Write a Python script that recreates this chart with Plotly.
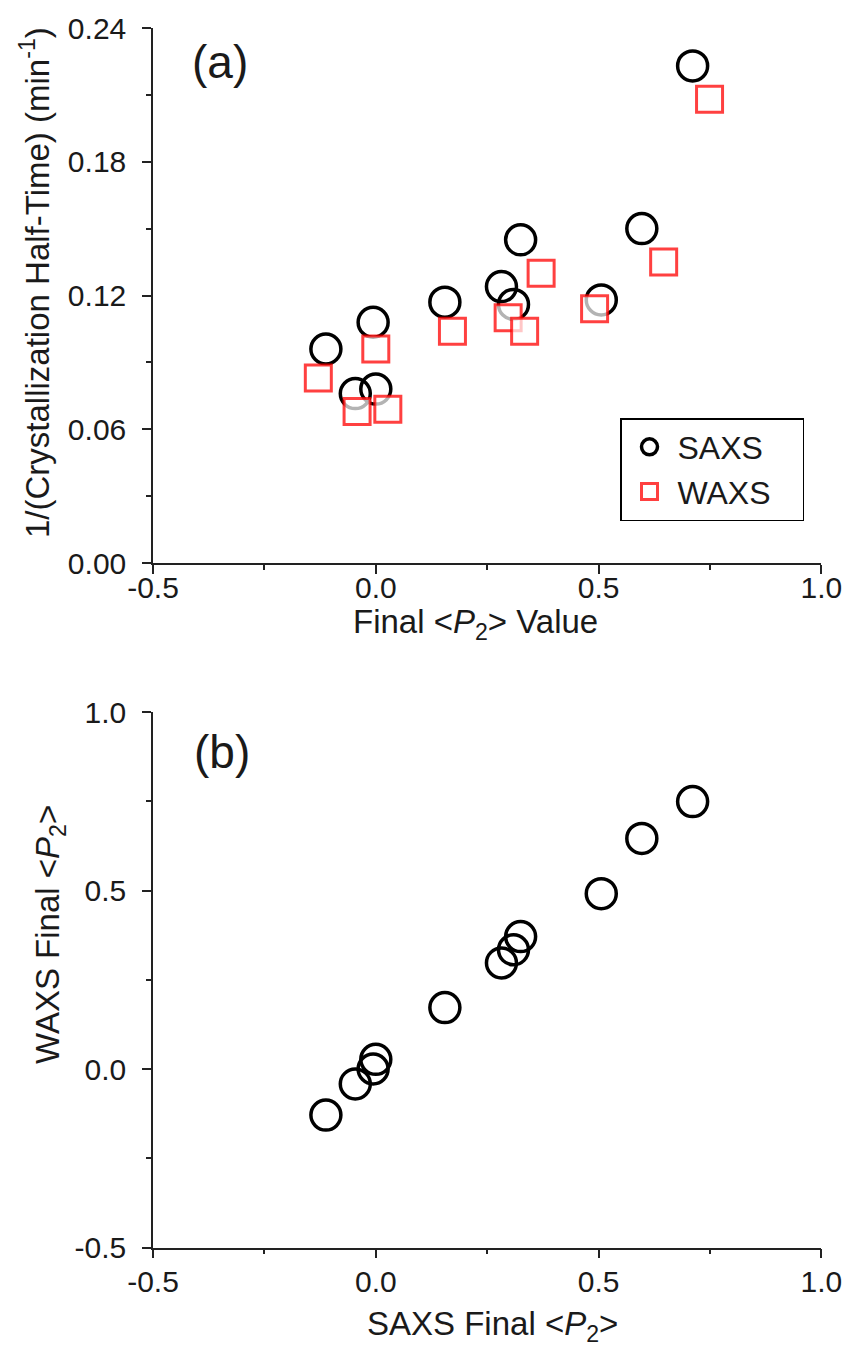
import plotly.graph_objects as go

# ---- data ----
sample_ids = list(range(1, 12))
saxs_p2 = [0.711, 0.597, 0.325, 0.282, 0.309, 0.506, 0.155, -0.006, -0.112, -0.046, 0.000]
saxs_rate = [0.223, 0.150, 0.145, 0.124, 0.116, 0.118, 0.117, 0.108, 0.096, 0.076, 0.078]
waxs_p2 = [0.749, 0.646, 0.371, 0.297, 0.334, 0.491, 0.172, 0.000, -0.129, -0.042, 0.027]
waxs_rate = [0.208, 0.135, 0.130, 0.110, 0.104, 0.114, 0.104, 0.096, 0.083, 0.068, 0.069]

x_ticks = [-0.5, 0.0, 0.5, 1.0]
x_ticktext = ["-0.5", "0.0", "0.5", "1.0"]
x_minor = [-0.25, 0.25, 0.75]
ya_ticks = [0.0, 0.06, 0.12, 0.18, 0.24]
ya_ticktext = ["0.00", "0.06", "0.12", "0.18", "0.24"]
ya_minor = [0.03, 0.09, 0.15, 0.21]
yb_ticks = [-0.5, 0.0, 0.5, 1.0]
yb_ticktext = ["-0.5", "0.0", "0.5", "1.0"]
yb_minor = [-0.25, 0.25, 0.75]

FONT = "Liberation Sans, Arial, sans-serif"
TXT = "#1a1a1a"
AX = "#222222"
W, H = 848, 1355
PAD = "\u00a0\u00a0\u00a0"

fig = go.Figure()

fig.add_trace(go.Scatter(
    x=saxs_p2, y=saxs_rate, mode="markers", name="SAXS" + PAD,
    marker=dict(symbol="circle-open", size=30, color="black",
                line=dict(width=3.5, color="black")),
    xaxis="x", yaxis="y", cliponaxis=False))
fig.add_trace(go.Scatter(
    x=waxs_p2, y=waxs_rate, mode="markers", name="WAXS" + PAD,
    marker=dict(symbol="square", size=26, color="rgba(255,255,255,0.7)",
                line=dict(width=3, color="rgba(255,0,0,0.75)")),
    xaxis="x", yaxis="y", cliponaxis=False))
fig.add_trace(go.Scatter(
    x=saxs_p2, y=waxs_p2, mode="markers", name="SAXS vs WAXS",
    marker=dict(symbol="circle-open", size=30, color="black",
                line=dict(width=3.5, color="black")),
    xaxis="x2", yaxis="y2", showlegend=False, cliponaxis=False))

xdom = [153 / W, 821.4 / W]
ydom_a = [1 - 563 / H, 1 - 28 / H]
ydom_b = [1 - 1247.5 / H, 1 - 712 / H]

def axis_common(tickvals, ticktext, minor_vals, standoff):
    return dict(
        tickmode="array", tickvals=tickvals, ticktext=ticktext,
        ticks="outside", ticklen=9, tickwidth=1.5, tickcolor=AX,
        minor=dict(tickmode="array", tickvals=minor_vals, ticks="outside",
                   ticklen=5, tickwidth=1.5, tickcolor=AX, showgrid=False),
        showline=True, linewidth=1.5, linecolor=AX,
        showgrid=False, zeroline=False, automargin=False,
        ticklabelstandoff=standoff,
        tickfont=dict(family=FONT, size=30, color=TXT),
    )

fig.update_layout(
    width=W, height=H,
    margin=dict(l=0, r=0, t=0, b=0, autoexpand=False),
    paper_bgcolor="white", plot_bgcolor="white",
    xaxis=dict(domain=xdom, range=[-0.5, 1.0], anchor="y",
               **axis_common(x_ticks, x_ticktext, x_minor, -12)),
    yaxis=dict(domain=ydom_a, range=[0, 0.24], anchor="x",
               **axis_common(ya_ticks, ya_ticktext, ya_minor, 10)),
    xaxis2=dict(domain=xdom, range=[-0.5, 1.0], anchor="y2",
                **axis_common(x_ticks, x_ticktext, x_minor, -2)),
    yaxis2=dict(domain=ydom_b, range=[-0.5, 1.0], anchor="x2",
                **axis_common(yb_ticks, yb_ticktext, yb_minor, 10)),
    showlegend=True,
    legend=dict(x=620 / W, y=1 - 418 / H, xanchor="left", yanchor="top",
                bordercolor="black", borderwidth=1.5, bgcolor="white",
                font=dict(family=FONT, size=32, color=TXT),
                itemwidth=46, tracegroupgap=0),
)

ann_font = dict(family=FONT, size=33, color=TXT)
fig.add_annotation(text="Final &lt;<i>P</i><sub>2</sub>&gt; Value", x=475 / W, y=1 - 624 / H,
                   xref="paper", yref="paper", showarrow=False, font=ann_font,
                   xanchor="center", yanchor="middle")
fig.add_annotation(text="1/(Crystallization Half-Time) (min<sup>-1</sup>)", x=35 / W, y=1 - 283 / H,
                   xref="paper", yref="paper", showarrow=False, font=ann_font, textangle=-90,
                   xanchor="center", yanchor="middle")
fig.add_annotation(text="SAXS Final &lt;<i>P</i><sub>2</sub>&gt;", x=492 / W, y=1 - 1326 / H,
                   xref="paper", yref="paper", showarrow=False, font=ann_font,
                   xanchor="center", yanchor="middle")
fig.add_annotation(text="WAXS Final &lt;<i>P</i><sub>2</sub>&gt;", x=50 / W, y=1 - 935 / H,
                   xref="paper", yref="paper", showarrow=False, font=ann_font, textangle=-90,
                   xanchor="center", yanchor="middle")
fig.add_annotation(text="(a)", x=220 / W, y=1 - 62 / H, xref="paper", yref="paper",
                   showarrow=False, font=dict(family=FONT, size=46, color=TXT),
                   xanchor="center", yanchor="middle")
fig.add_annotation(text="(b)", x=222 / W, y=1 - 752 / H, xref="paper", yref="paper",
                   showarrow=False, font=dict(family=FONT, size=46, color=TXT),
                   xanchor="center", yanchor="middle")

fig.write_html("out.html")
